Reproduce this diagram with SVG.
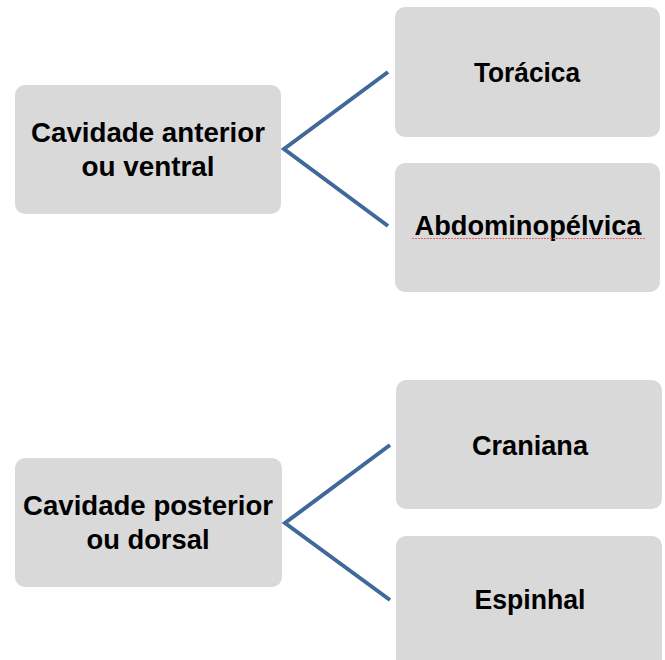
<svg xmlns="http://www.w3.org/2000/svg" width="665" height="660" viewBox="0 0 665 660">
<defs>
<style>
.box{fill:#d9d9d9;}
.t{font-family:"Liberation Sans",Arial,sans-serif;font-weight:bold;font-size:28px;fill:#000;text-anchor:middle;}
.c{fill:none;stroke:#41689b;stroke-width:4;stroke-linejoin:miter;}
</style>
</defs>
<rect width="665" height="660" fill="#fff"/>
<g id="connectors">
<polyline class="c" points="388,72 284,149 388,226"/>
<polyline class="c" points="390,445 285,523 390,600"/>
</g>
<g id="n-anterior">
<rect class="box" x="15" y="85" width="266" height="129" rx="10"/>
<text class="t" x="148" y="142" textLength="234" lengthAdjust="spacingAndGlyphs">Cavidade anterior</text>
<text class="t" x="148" y="176" textLength="133" lengthAdjust="spacingAndGlyphs">ou ventral</text>
</g>
<g id="n-toracica">
<rect class="box" x="395" y="7" width="265" height="130" rx="10"/>
<text class="t" x="527" y="82" textLength="106" lengthAdjust="spacingAndGlyphs">Torácica</text>
</g>
<g id="n-abdominopelvica">
<rect class="box" x="395" y="163" width="265" height="129" rx="10"/>
<text class="t" x="528" y="235" textLength="227" lengthAdjust="spacingAndGlyphs">Abdominopélvica</text>
<path d="M412,238.5 L645,238.5" stroke="#e06666" stroke-width="1" stroke-dasharray="2,1" fill="none"/>
</g>
<g id="n-posterior">
<rect class="box" x="15" y="458" width="267" height="129" rx="10"/>
<text class="t" x="148" y="515" textLength="250" lengthAdjust="spacingAndGlyphs">Cavidade posterior</text>
<text class="t" x="148" y="549" textLength="123" lengthAdjust="spacingAndGlyphs">ou dorsal</text>
</g>
<g id="n-craniana">
<rect class="box" x="396" y="380" width="266" height="129" rx="10"/>
<text class="t" x="530" y="455" textLength="116" lengthAdjust="spacingAndGlyphs">Craniana</text>
</g>
<g id="n-espinhal">
<rect class="box" x="396" y="536" width="266" height="134" rx="10"/>
<text class="t" x="530" y="609" textLength="111" lengthAdjust="spacingAndGlyphs">Espinhal</text>
</g>
</svg>
